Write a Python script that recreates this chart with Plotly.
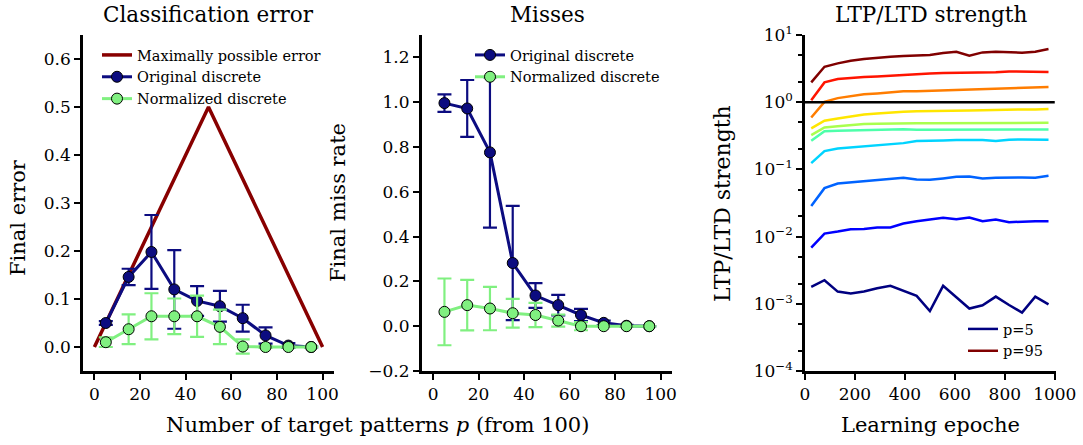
import plotly.graph_objects as go

# ---------------- data ----------------
p_vals = [5, 15, 25, 35, 45, 55, 65, 75, 85, 95]

maxerr_x = [0, 50, 100]
maxerr_y = [0.0, 0.5, 0.0]

err_orig = [0.050, 0.146, 0.198, 0.120, 0.096, 0.085, 0.060, 0.024, 0.003, 0.000]
err_orig_sd = [0.004, 0.017, 0.077, 0.082, 0.031, 0.032, 0.028, 0.017, 0.005, 0.001]
err_norm = [0.010, 0.037, 0.064, 0.064, 0.064, 0.042, 0.001, 0.000, 0.000, 0.000]
err_norm_sd = [0.010, 0.031, 0.048, 0.037, 0.043, 0.036, 0.015, 0.002, 0.001, 0.001]

miss_orig = [0.996, 0.972, 0.776, 0.282, 0.137, 0.094, 0.050, 0.015, 0.002, 0.000]
miss_orig_sd = [0.039, 0.127, 0.336, 0.255, 0.055, 0.046, 0.027, 0.010, 0.004, 0.001]
miss_norm = [0.064, 0.094, 0.079, 0.058, 0.050, 0.025, 0.000, 0.000, 0.000, 0.000]
miss_norm_sd = [0.149, 0.113, 0.097, 0.064, 0.054, 0.027, 0.018, 0.002, 0.001, 0.001]

epochs = [25, 78, 131, 183, 236, 289, 342, 394, 447, 500, 553, 606, 658, 711, 764, 817, 869, 922, 975]

ltp_p5 = [0.00178, 0.00224, 0.00152, 0.00142, 0.00152, 0.00170, 0.00185, 0.00158, 0.00131, 0.00078,
          0.00185, 0.00125, 0.00085, 0.00095, 0.00128, 0.00096, 0.00074, 0.00128, 0.00098]
ltp_p15 = [0.00687, 0.0111, 0.0119, 0.0129, 0.0130, 0.01365, 0.01365, 0.01566, 0.0169, 0.01795,
           0.0190, 0.0181, 0.0192, 0.0169, 0.01795, 0.0164, 0.0168, 0.0169, 0.0169]
ltp_p25 = [0.0286, 0.0526, 0.0617, 0.0638, 0.0660, 0.0692, 0.0716, 0.0749, 0.0708, 0.0700,
           0.0733, 0.0775, 0.0784, 0.0733, 0.0749, 0.0757, 0.0757, 0.0749, 0.0802]
ltp_p35 = [0.124, 0.187, 0.205, 0.212, 0.219, 0.227, 0.238, 0.246, 0.264, 0.270,
           0.270, 0.273, 0.273, 0.273, 0.264, 0.276, 0.279, 0.279, 0.276]
ltp_p45 = [0.266, 0.371, 0.375, 0.378, 0.382, 0.390, 0.393, 0.397, 0.390, 0.390,
           0.392, 0.393, 0.390, 0.390, 0.392, 0.392, 0.390, 0.392, 0.393]
ltp_p55 = [0.324, 0.421, 0.440, 0.456, 0.472, 0.477, 0.483, 0.483, 0.485, 0.485,
           0.486, 0.487, 0.487, 0.488, 0.489, 0.490, 0.490, 0.492, 0.494]
ltp_p65 = [0.407, 0.529, 0.573, 0.621, 0.658, 0.681, 0.705, 0.720, 0.736, 0.745,
           0.745, 0.745, 0.754, 0.760, 0.770, 0.770, 0.780, 0.780, 0.790]
ltp_p75 = [0.593, 1.01, 1.15, 1.22, 1.31, 1.35, 1.41, 1.45, 1.46, 1.48,
           1.50, 1.53, 1.55, 1.59, 1.62, 1.64, 1.64, 1.66, 1.68]
ltp_p85 = [1.07, 1.97, 2.21, 2.31, 2.37, 2.42, 2.48, 2.56, 2.65, 2.68,
           2.71, 2.71, 2.74, 2.74, 2.78, 2.87, 2.84, 2.81, 2.81]
ltp_p95 = [1.97, 3.37, 3.78, 4.14, 4.38, 4.59, 4.75, 4.86, 4.92, 5.03,
           5.39, 5.64, 4.92, 5.51, 5.64, 5.51, 5.45, 5.64, 6.18]

ltp_series = [ltp_p5, ltp_p15, ltp_p25, ltp_p35, ltp_p45, ltp_p55, ltp_p65, ltp_p75, ltp_p85, ltp_p95]
ltp_names = ["p=5", "p=15", "p=25", "p=35", "p=45", "p=55", "p=65", "p=75", "p=85", "p=95"]
ltp_colors = ["rgb(0,0,128)", "rgb(0,0,255)", "rgb(0,99,255)", "rgb(0,212,255)", "rgb(78,255,170)",
              "rgb(169,255,78)", "rgb(255,230,0)", "rgb(255,125,0)", "rgb(255,20,0)", "rgb(128,0,0)"]

xticks_p = [0, 20, 40, 60, 80, 100]
yticks_err = [0.0, 0.1, 0.2, 0.3, 0.4, 0.5, 0.6]
yticks_miss = [-0.2, 0.0, 0.2, 0.4, 0.6, 0.8, 1.0, 1.2]
xticks_ep = [0, 200, 400, 600, 800, 1000]
yticks_ltp = [1e-4, 1e-3, 1e-2, 1e-1, 1e0, 1e1]
yticktext_ltp = ["10<sup>−4</sup>", "10<sup>−3</sup>", "10<sup>−2</sup>", "10<sup>−1</sup>",
                 "10<sup>0</sup>", "10<sup>1</sup>"]

# ---------------- style ----------------
FONT = "DejaVu Serif"
NAVY = "#0c0c80"
GREEN = "#80f080"
DARKRED = "#880000"
W, H = 1083, 445

def px_x(a, b):
    return [a / W, b / W]

def px_y(top, bottom):
    return [1 - bottom / H, 1 - top / H]

fig = go.Figure()

# left panel
fig.add_trace(go.Scatter(x=maxerr_x, y=maxerr_y, mode="lines", name="Maximally possible error",
                         line=dict(color=DARKRED, width=3.5), xaxis="x", yaxis="y", legend="legend"))
fig.add_trace(go.Scatter(x=p_vals, y=err_orig, mode="lines+markers", name="Original discrete",
                         line=dict(color=NAVY, width=3),
                         marker=dict(size=11, color=NAVY, line=dict(color="black", width=1)),
                         error_y=dict(type="data", array=err_orig_sd, color=NAVY, thickness=2.2, width=7),
                         xaxis="x", yaxis="y", legend="legend"))
fig.add_trace(go.Scatter(x=p_vals, y=err_norm, mode="lines+markers", name="Normalized discrete",
                         line=dict(color=GREEN, width=3),
                         marker=dict(size=11, color=GREEN, line=dict(color="black", width=1)),
                         error_y=dict(type="data", array=err_norm_sd, color=GREEN, thickness=2.2, width=7),
                         xaxis="x", yaxis="y", legend="legend"))

# middle panel
fig.add_trace(go.Scatter(x=p_vals, y=miss_orig, mode="lines+markers", name="Original discrete",
                         line=dict(color=NAVY, width=3),
                         marker=dict(size=11, color=NAVY, line=dict(color="black", width=1)),
                         error_y=dict(type="data", array=miss_orig_sd, color=NAVY, thickness=2.2, width=7),
                         xaxis="x2", yaxis="y2", legend="legend2"))
fig.add_trace(go.Scatter(x=p_vals, y=miss_norm, mode="lines+markers", name="Normalized discrete",
                         line=dict(color=GREEN, width=3),
                         marker=dict(size=11, color=GREEN, line=dict(color="black", width=1)),
                         error_y=dict(type="data", array=miss_norm_sd, color=GREEN, thickness=2.2, width=7),
                         xaxis="x2", yaxis="y2", legend="legend2"))

# right panel
for ser, nm, col in zip(ltp_series, ltp_names, ltp_colors):
    fig.add_trace(go.Scatter(x=epochs, y=ser, mode="lines", name=nm,
                             line=dict(color=col, width=2.5),
                             showlegend=nm in ("p=5", "p=95"),
                             xaxis="x3", yaxis="y3", legend="legend3"))
fig.add_trace(go.Scatter(x=[0, 1000], y=[1, 1], mode="lines", line=dict(color="black", width=2.5),
                         showlegend=False, xaxis="x3", yaxis="y3", hoverinfo="skip"))

axis_common = dict(showline=True, linecolor="black", linewidth=2.5, ticks="outside",
                   ticklen=6, tickwidth=2, tickcolor="black", showgrid=False, zeroline=False,
                   automargin=False,
                   tickfont=dict(family=FONT, size=17, color="black"))

ydom = px_y(35, 371)
fig.update_layout(
    width=W, height=H, margin=dict(l=0, r=0, t=0, b=0, autoexpand=False),
    paper_bgcolor="white", plot_bgcolor="white",
    font=dict(family=FONT, color="black"),
    xaxis=dict(domain=px_x(83, 334), range=[-5, 105], tickvals=xticks_p, anchor="y", **axis_common),
    yaxis=dict(domain=ydom, range=[-0.05, 0.65], tickvals=yticks_err, tickformat=".1f",
               anchor="x", **axis_common),
    xaxis2=dict(domain=px_x(421.7, 672), range=[-5, 105], tickvals=xticks_p, anchor="y2", **axis_common),
    yaxis2=dict(domain=ydom, range=[-0.2, 1.3], tickvals=yticks_miss, tickformat=".1f",
                anchor="x2", **axis_common),
    xaxis3=dict(domain=px_x(805, 1056), range=[0, 1005], tickvals=xticks_ep, anchor="y3", **axis_common),
    yaxis3=dict(domain=ydom, type="log", range=[-4, 1], tickvals=yticks_ltp, ticktext=yticktext_ltp,
                anchor="x3",
                minor=dict(ticks="outside", ticklen=4, tickwidth=1.5, tickcolor="black", showgrid=False),
                **axis_common),
    showlegend=True,
    legend=dict(x=97 / W, y=1 - 39 / H, xanchor="left", yanchor="top", bgcolor="rgba(0,0,0,0)",
                font=dict(family=FONT, size=14.5, color="black"), tracegroupgap=0, itemwidth=30),
    legend2=dict(x=470 / W, y=1 - 39 / H, xanchor="left", yanchor="top", bgcolor="rgba(0,0,0,0)",
                 font=dict(family=FONT, size=14.5, color="black"), tracegroupgap=0, itemwidth=30),
    legend3=dict(x=963 / W, y=1 - 313 / H, xanchor="left", yanchor="top", bgcolor="rgba(0,0,0,0)",
                 font=dict(family=FONT, size=14.5, color="black"), tracegroupgap=0, itemwidth=30),
)

annots = [
    dict(text="Classification error", x=208.5, y=15, size=21.5),
    dict(text="Misses", x=547, y=15, size=21.5),
    dict(text="LTP/LTD strength", x=930.5, y=15, size=21.5),
    dict(text="Number of target patterns <i>p</i> (from 100)", x=377, y=425, size=21),
    dict(text="Learning epoche", x=930.5, y=425, size=21),
]
for a in annots:
    fig.add_annotation(text=a["text"], x=a["x"] / W, y=1 - a["y"] / H, xref="paper", yref="paper",
                       xanchor="center", yanchor="middle", showarrow=False,
                       font=dict(family=FONT, size=a["size"], color="black"))

ylabels = [
    dict(text="Final error", x=18, y=218, size=21),
    dict(text="Final miss rate", x=338, y=203, size=21),
    dict(text="LTP/LTD strength", x=723, y=204, size=22),
]
for a in ylabels:
    fig.add_annotation(text=a["text"], x=a["x"] / W, y=1 - a["y"] / H, xref="paper", yref="paper",
                       xanchor="center", yanchor="middle", showarrow=False, textangle=-90,
                       font=dict(family=FONT, size=a["size"], color="black"))

fig.write_html("out.html")
